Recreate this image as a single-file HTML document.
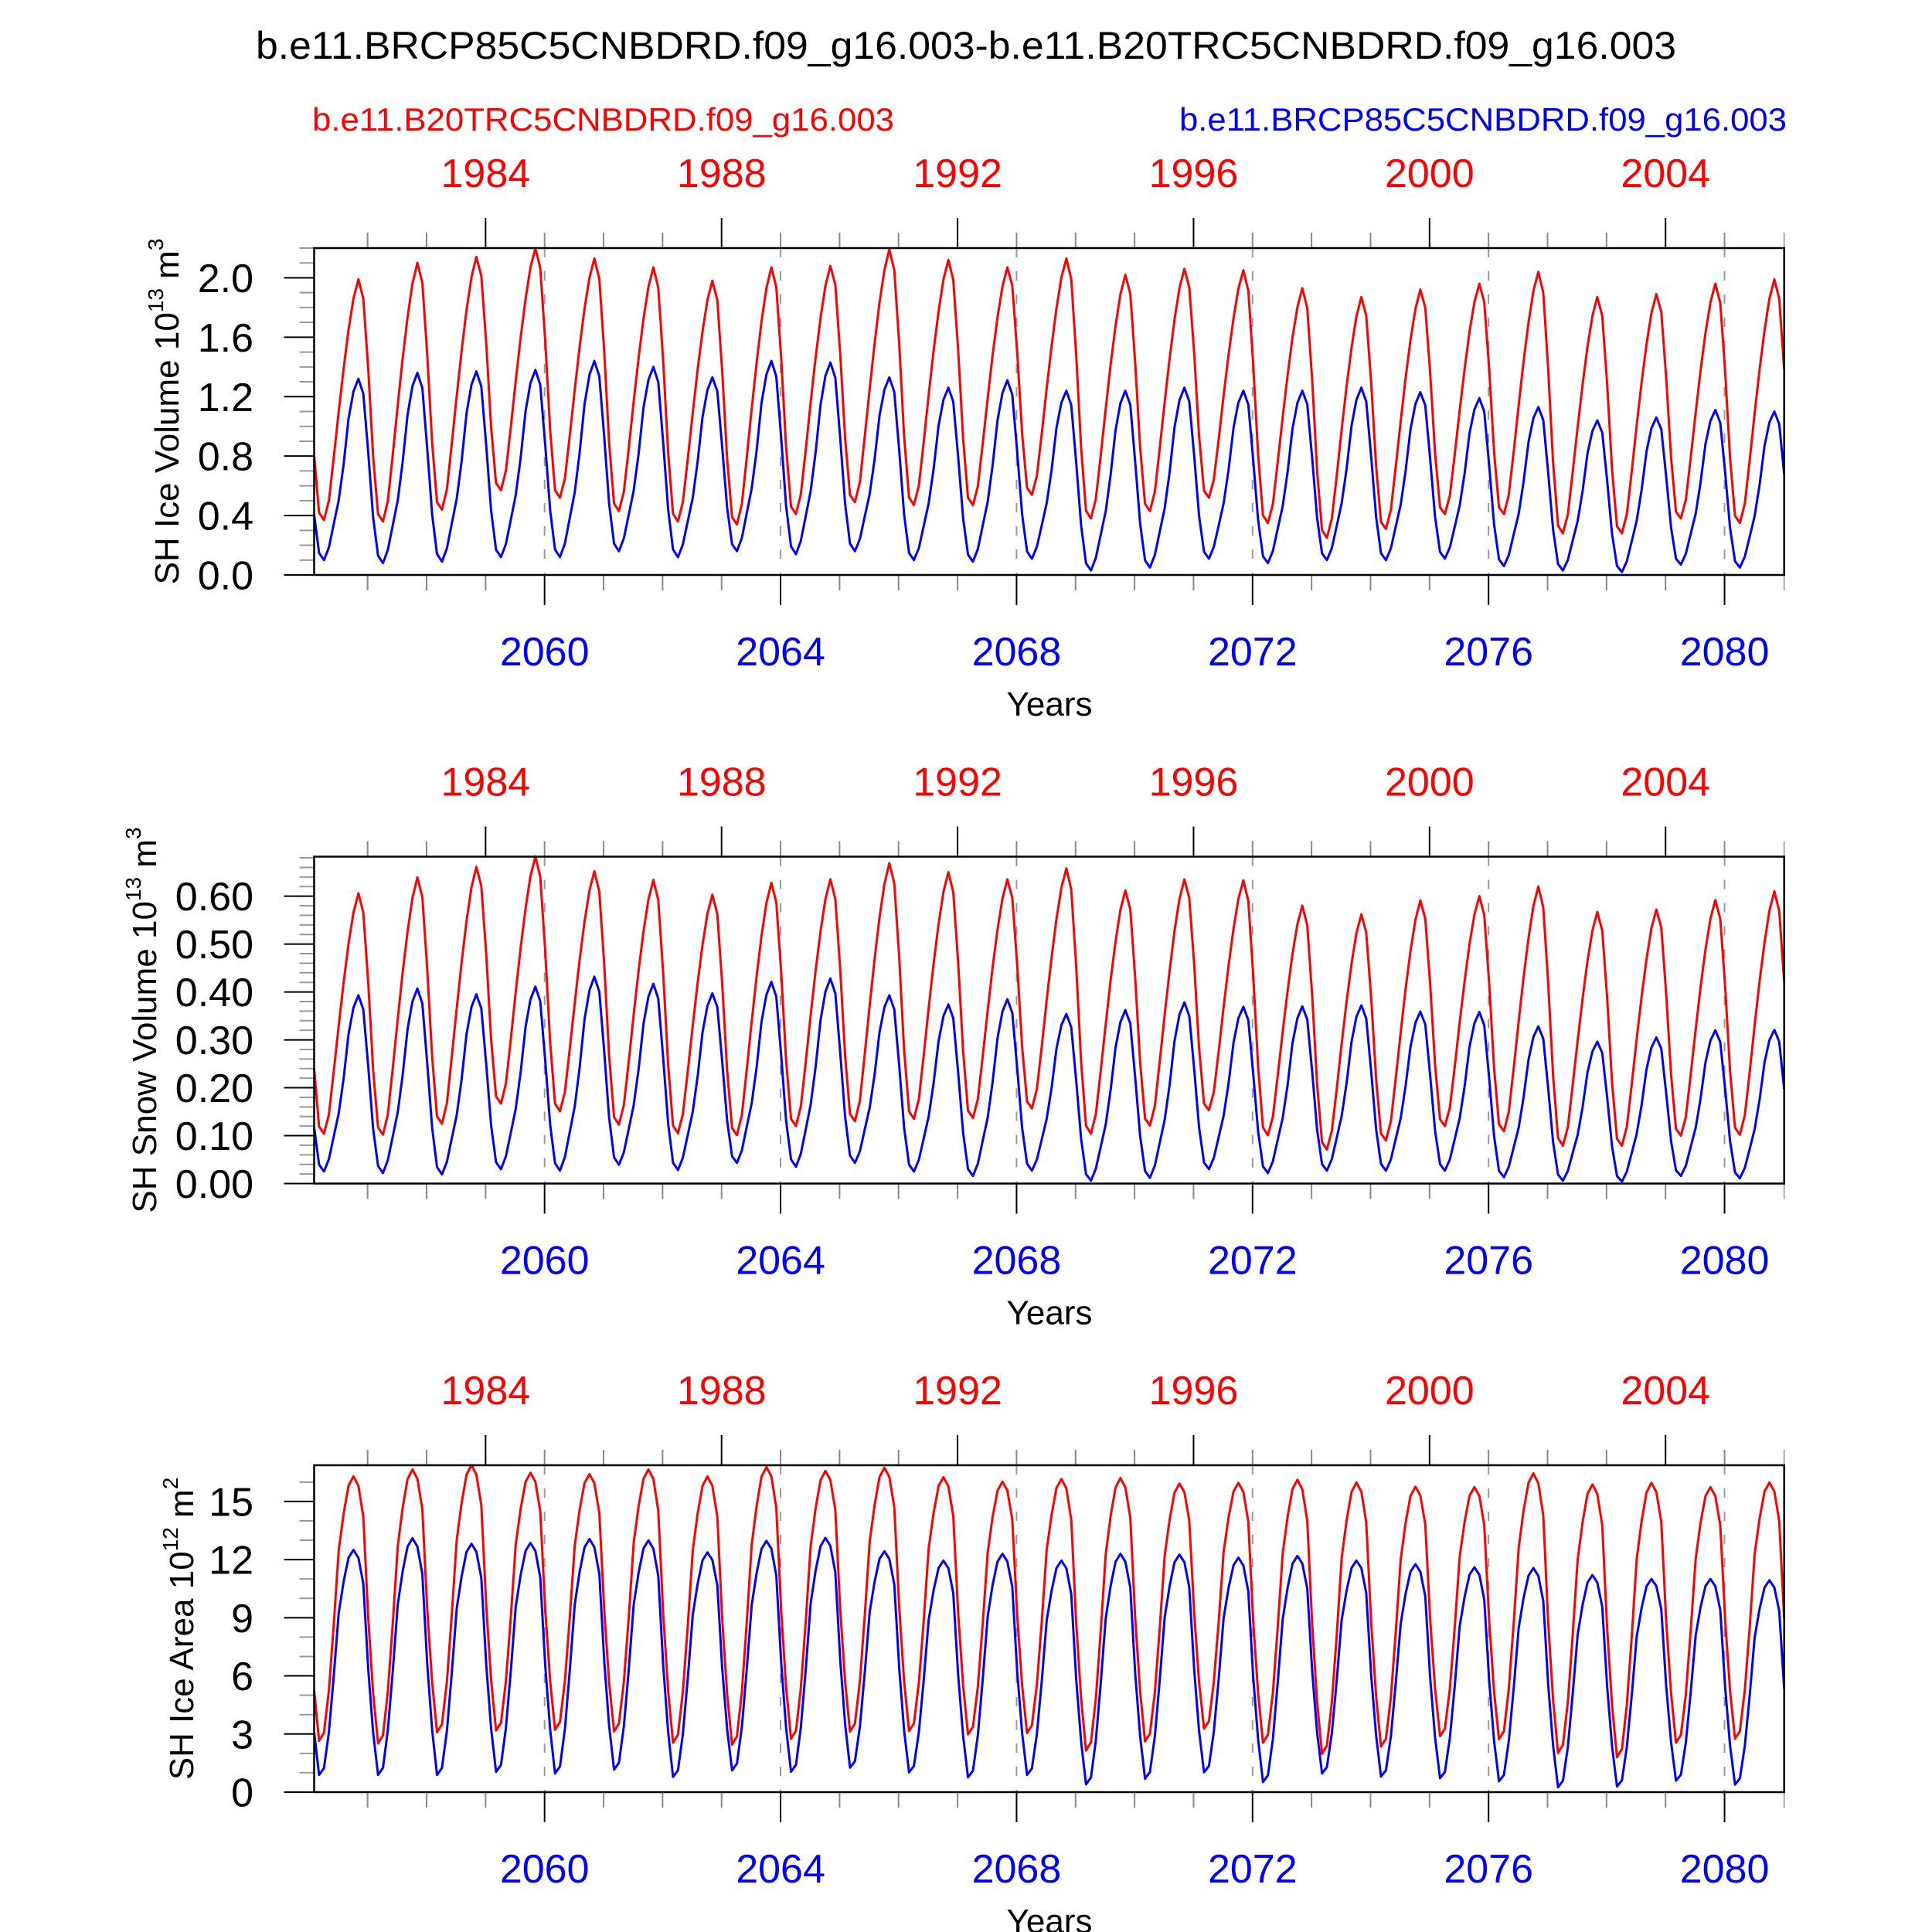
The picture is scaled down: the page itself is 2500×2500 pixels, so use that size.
<!DOCTYPE html>
<html><head><meta charset="utf-8"><style>
html,body{margin:0;padding:0;background:#fff;}
svg{display:block;font-family:"Liberation Sans",Arial,sans-serif;}
</style></head><body>
<svg id="chart" width="2500" height="2500" viewBox="0 0 2500 2500" xmlns="http://www.w3.org/2000/svg">
<rect width="2500" height="2500" fill="#fff"/>
<text x="1250" y="76" font-size="50" text-anchor="middle" textLength="1838" lengthAdjust="spacingAndGlyphs">b.e11.BRCP85C5CNBDRD.f09_g16.003-b.e11.B20TRC5CNBDRD.f09_g16.003</text>
<text x="404" y="169" font-size="42" fill="#ff0000" textLength="753" lengthAdjust="spacingAndGlyphs">b.e11.B20TRC5CNBDRD.f09_g16.003</text>
<text x="2312" y="169" font-size="42" fill="#0000ff" text-anchor="end" textLength="786" lengthAdjust="spacingAndGlyphs">b.e11.BRCP85C5CNBDRD.f09_g16.003</text>
</svg>
<script>
// ---- data (annual peaks/troughs) ----
const volShapeRed = [0.27,0.03,0,0.08,0.26,0.45,0.63,0.79,0.92,1.0,0.92,0.63];
const volShapeBlue = [0.25,0.04,0,0.07,0.2,0.33,0.53,0.78,0.93,1.0,0.92,0.6];
const areaShape = [0.19,0,0.03,0.19,0.44,0.72,0.86,0.965,1.0,0.965,0.85,0.47];

const iceVolRedMax = [1.99,2.10,2.14,2.20,2.13,2.07,1.98,2.07,2.08,2.19,2.12,2.07,2.13,2.02,2.06,2.05,1.93,1.87,1.92,1.96,2.04,1.87,1.89,1.96,1.99];
const iceVolRedMin = [0.37,0.36,0.44,0.57,0.52,0.43,0.36,0.34,0.41,0.49,0.47,0.47,0.54,0.38,0.43,0.52,0.35,0.25,0.31,0.41,0.41,0.28,0.28,0.38,0.35];
const iceVolBlueMax = [1.32,1.36,1.37,1.38,1.44,1.40,1.33,1.44,1.43,1.33,1.26,1.31,1.24,1.24,1.26,1.24,1.24,1.26,1.23,1.19,1.13,1.04,1.06,1.11,1.10];
const iceVolBlueMin = [0.10,0.08,0.09,0.12,0.12,0.16,0.12,0.16,0.14,0.16,0.10,0.09,0.11,0.03,0.05,0.11,0.08,0.10,0.10,0.11,0.06,0.03,0.02,0.07,0.05];

const snowRedMax = [0.606,0.639,0.661,0.683,0.652,0.634,0.603,0.628,0.635,0.669,0.650,0.635,0.658,0.612,0.635,0.633,0.580,0.562,0.591,0.600,0.620,0.567,0.572,0.592,0.610];
const snowRedMin = [0.104,0.102,0.125,0.167,0.151,0.123,0.105,0.101,0.120,0.130,0.135,0.137,0.157,0.104,0.121,0.153,0.101,0.071,0.090,0.120,0.109,0.079,0.079,0.100,0.102];
const snowBlueMax = [0.393,0.407,0.395,0.411,0.432,0.417,0.397,0.421,0.428,0.393,0.374,0.385,0.354,0.362,0.378,0.369,0.370,0.372,0.359,0.358,0.328,0.296,0.305,0.320,0.321];
const snowBlueMin = [0.025,0.022,0.019,0.030,0.027,0.039,0.028,0.043,0.035,0.043,0.025,0.016,0.027,0.006,0.012,0.030,0.022,0.027,0.027,0.027,0.013,0.006,0.004,0.016,0.011];

const areaRedMax = [16.29,16.65,16.87,16.48,16.41,16.65,16.29,16.78,16.58,16.74,16.25,16.02,16.16,16.21,15.92,15.96,16.12,15.98,15.76,15.74,16.45,15.88,15.96,15.74,15.98];
const areaRedMin = [2.65,2.51,3.09,3.18,3.22,3.13,2.55,2.45,2.75,3.13,3.15,2.98,3.05,2.15,2.62,3.28,2.55,1.98,2.35,2.89,2.73,2.02,1.80,2.55,2.75];
const areaBlueMax = [12.5,13.1,12.82,12.86,13.06,12.99,12.37,12.97,13.12,12.43,11.95,12.30,11.95,12.30,12.26,12.10,12.19,11.95,11.76,11.60,11.56,11.20,11.0,11.0,10.93];
const areaBlueMin = [0.89,0.89,0.89,1.05,0.96,1.16,0.78,1.12,1.05,1.26,1.02,0.76,0.89,0.40,0.69,1.02,0.52,0.96,0.80,0.72,0.56,0.25,0.29,0.59,0.39];

const blueYearTicks = [2060,2064,2068,2072,2076,2080];
const redYearTicks = [1984,1988,1992,1996,2000,2004];
const iceVolTicks = ["0.0","0.4","0.8","1.2","1.6","2.0"];
const snowTicks = ["0.00","0.10","0.20","0.30","0.40","0.50","0.60"];
const areaTicks = ["0","3","6","9","12","15"];

// ---- layout ----
const NS = "http://www.w3.org/2000/svg";
const svg = document.getElementById('chart');
const X0 = 406.5, X1 = 2308.7;
const T0 = 2056 + 1/24, T1 = 2081 - 1/24;
const xOf = t => X0 + (t - T0) / (T1 - T0) * (X1 - X0);
const xTick = t => xOf(t) - 4;
const RED_OFFSET = 75;

function mk(tag, attrs, parent) {
  const e = document.createElementNS(NS, tag);
  for (const k in attrs) e.setAttribute(k, attrs[k]);
  (parent || svg).appendChild(e);
  return e;
}

function series(maxA, minA, shape, tm, pm) {
  const out = [];
  for (let y = 0; y < maxA.length; y++) {
    for (let m = 0; m < 12; m++) {
      let lo, hi;
      if (m < tm) { lo = minA[y]; hi = y > 0 ? maxA[y - 1] : maxA[y]; }
      else if (m <= pm) { lo = minA[y]; hi = maxA[y]; }
      else { lo = y + 1 < minA.length ? minA[y + 1] : minA[y]; hi = maxA[y]; }
      out.push(lo + shape[m] * (hi - lo));
    }
  }
  return out;
}

const panels = [
  {name:'ice-volume', top:321, ymax:2.2, major:0.4, minor:0.1, labels:iceVolTicks,
   title:['SH Ice Volume 10','13',' m','3'], titleX:231,
   red:series(iceVolRedMax, iceVolRedMin, volShapeRed, 2, 9),
   blue:series(iceVolBlueMax, iceVolBlueMin, volShapeBlue, 2, 9)},
  {name:'snow-volume', top:1108.5, ymax:0.6825, major:0.1, minor:0.02, labels:snowTicks,
   title:['SH Snow Volume 10','13',' m','3'], titleX:202,
   red:series(snowRedMax, snowRedMin, volShapeRed, 2, 9),
   blue:series(snowBlueMax, snowBlueMin, volShapeBlue, 2, 9)},
  {name:'ice-area', top:1896, ymax:16.87, major:3, minor:1, labels:areaTicks,
   title:['SH Ice Area 10','12',' m','2'], titleX:250,
   red:series(areaRedMax, areaRedMin, areaShape, 1, 8),
   blue:series(areaBlueMax, areaBlueMin, areaShape, 1, 8)}
];
const H = 423;

panels.forEach((p, pi) => {
  const g = mk('g', {});
  
  
  const top = p.top, bot = top + H;
  const yOf = v => bot - v / p.ymax * H;

  blueYearTicks.forEach(yr => {
    const l = mk('line', {x1:xTick(yr), x2:xTick(yr), y1:top, y2:bot, stroke:'#999', 'stroke-width':2, 'stroke-dasharray':'12,18'}, g);
    
    
  });

  for (let yr = 2057; yr <= 2080; yr++) {
    const x = xTick(yr);
    const isBlueMajor = blueYearTicks.includes(yr);
    const isRedMajor = redYearTicks.includes(yr - RED_OFFSET);
    const tb = mk('line', {x1:x, x2:x, y1:bot, y2:bot + (isBlueMajor ? 39 : 20), stroke:isBlueMajor ? '#000' : '#888', 'stroke-width':2}, g);
    
    
    const tt = mk('line', {x1:x, x2:x, y1:top, y2:top - (isRedMajor ? 39 : 20), stroke:isRedMajor ? '#000' : '#888', 'stroke-width':2}, g);
    
    
  }
  const rt = mk('line', {x1:X1, x2:X1, y1:bot, y2:bot + 20, stroke:'#aaa', 'stroke-width':2}, g);
  
  
  const rt2 = mk('line', {x1:X1, x2:X1, y1:top, y2:top - 20, stroke:'#aaa', 'stroke-width':2}, g);
  
  

  const nMinor = Math.floor(p.ymax / p.minor + 1e-6);
  for (let i = 0; i <= nMinor; i++) {
    const v = i * p.minor;
    const isMajor = Math.abs(v / p.major - Math.round(v / p.major)) < 1e-6;
    const y = yOf(v);
    const t = mk('line', {x1:X0 - (isMajor ? 39 : 19), x2:X0, y1:y, y2:y, stroke:isMajor ? '#000' : '#999', 'stroke-width':2}, g);
    
    
  }
  p.labels.forEach(lab => {
    const t = mk('text', {x:328, y:yOf(parseFloat(lab)) + 18.5, 'font-size':52, 'text-anchor':'end'}, g);
    
    
    t.textContent = lab;
  });

  [['red', p.red, '#ff0000'], ['blue', p.blue, '#0000ff']].forEach(([nm, arr, col]) => {
    const pts = arr.map((v, i) => xOf(2056 + (i + 0.5) / 12).toFixed(1) + ',' + yOf(v).toFixed(1)).join(' ');
    const pl = mk('polyline', {points:pts, fill:'none', stroke:col, 'stroke-width':3, 'stroke-linejoin':'round'}, g);
    
    
  });

  const fr = mk('rect', {x:X0, y:top, width:X1 - X0, height:H, fill:'none', stroke:'#000', 'stroke-width':2.5}, g);
  
  

  redYearTicks.forEach(yr => {
    const t = mk('text', {x:xTick(yr + RED_OFFSET), y:top - 79, 'font-size':52, fill:'#ff0000', 'text-anchor':'middle'}, g);
    
    
    t.textContent = yr;
  });
  blueYearTicks.forEach(yr => {
    const t = mk('text', {x:xTick(yr), y:bot + 117, 'font-size':52, fill:'#0000ff', 'text-anchor':'middle'}, g);
    
    
    t.textContent = yr;
  });
  const xt = mk('text', {x:1358, y:bot + 182, 'font-size':44, 'text-anchor':'middle'}, g);
  
  
  xt.textContent = 'Years';

  const cy = top + H / 2;
  const yt = mk('text', {x:0, y:0, 'font-size':44, 'text-anchor':'middle', transform:'translate(' + p.titleX + ',' + cy + ') rotate(-90)'}, g);
  
  
  const s1 = mk('tspan', {}, yt); s1.textContent = p.title[0];
  const s2 = mk('tspan', {dy:-20, 'font-size':28}, yt); s2.textContent = p.title[1];
  const s3 = mk('tspan', {dy:20}, yt); s3.textContent = p.title[2];
  const s4 = mk('tspan', {dy:-20, 'font-size':28}, yt); s4.textContent = p.title[3];
});
</script>
</body></html>
